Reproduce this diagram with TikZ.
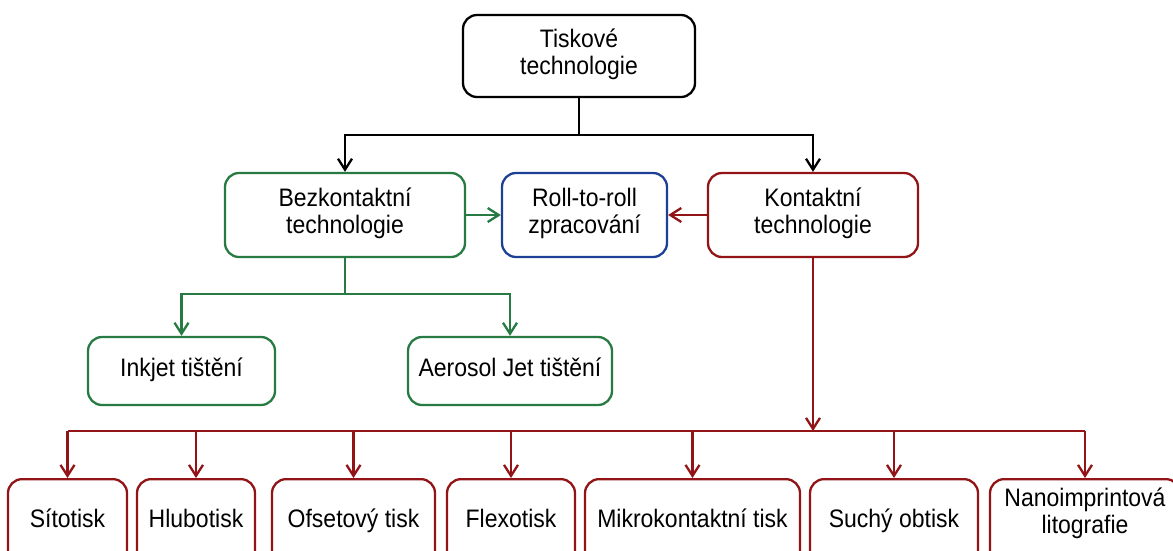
\documentclass[tikz,border=0pt]{standalone}
\usepackage{fontspec}
\setmainfont{Liberation Sans}
\usetikzlibrary{arrows.meta}

\definecolor{kgreen}{RGB}{38,122,66}
\definecolor{kblue}{RGB}{28,64,150}
\definecolor{kred}{RGB}{146,20,22}

% slightly tall lettering, one or more centred lines
\newcommand\tx[1]{\scalebox{1}[1.1]{\begin{tabular}[t]{@{}c@{}}#1\end{tabular}}}

\tikzset{
  box/.style={draw, line width=2.3pt, rounded corners=14pt, align=center,
    inner sep=0pt, font=\fontsize{23}{24.5}\selectfont},
  arr/.style={line width=2.3pt, -{Straight Barb[length=11pt,width=14pt]}},
  ln/.style={line width=2.3pt},
  low/.style={box, draw=kred, anchor=north, text height=48pt, text depth=80pt},
}

\begin{document}
\begin{tikzpicture}[x=1pt,y=-1pt]
\useasboundingbox (0,0) rectangle (1173,550);
\fill[white] (0,0) rectangle (1173,550);
\clip (0,0) rectangle (1173,550);

% root
\node[box, minimum width=232pt, minimum height=82pt] (top) at (579,56) {\tx{Tiskové\\technologie}};

% second level
\node[box, draw=kgreen, minimum width=240pt, minimum height=84pt] (bez) at (345,215) {\tx{Bezkontaktní\\technologie}};
\node[box, draw=kblue, minimum width=165pt, minimum height=84pt] (roll) at (584.5,215) {\tx{Roll-to-roll\\zpracování}};
\node[box, draw=kred, minimum width=210pt, minimum height=84pt] (kon) at (813,215) {\tx{Kontaktní\\technologie}};

% non-contact methods
\node[box, draw=kgreen, minimum width=187pt, minimum height=68pt] (ink) at (181.5,371) {\tx{Inkjet tištění}};
\node[box, draw=kgreen, minimum width=204pt, minimum height=68pt] (aer) at (510,371) {\tx{Aerosol Jet tištění}};

% contact methods (boxes run on below the lower edge)
\node[low, minimum width=119pt] (sit) at (67.5,478) {\tx{Sítotisk}};
\node[low, minimum width=118pt] (hlu) at (196,478) {\tx{Hlubotisk}};
\node[low, minimum width=163pt] (ofs) at (353.5,478) {\tx{Ofsetový tisk}};
\node[low, minimum width=128pt] (fle) at (511,478) {\tx{Flexotisk}};
\node[low, minimum width=215pt] (mik) at (692.5,478) {\tx{Mikrokontaktní tisk}};
\node[low, minimum width=168pt] (suc) at (894,478) {\tx{Suchý obtisk}};
\node[low, minimum width=190pt, text height=27pt] (nan) at (1085,478) {\tx{Nanoimprintová\\litografie}};

% root branches
\coordinate (j1) at (579,135);
\draw[ln] (top) -- (j1);
\draw[arr] (j1) -| (bez);
\draw[arr] (j1) -| (kon);

% into roll-to-roll
\draw[arr, kgreen] (bez) -- (roll);
\draw[arr, kred] (kon) -- (roll);

% non-contact branches
\coordinate (j2) at (345,294);
\draw[ln, kgreen] (bez) -- (j2);
\draw[arr, kgreen] (j2) -| (ink);
\draw[arr, kgreen] (j2) -| (aer);

% contact branches
\coordinate (j3) at (813,431);
\draw[arr, kred] (kon) -- (j3);
\draw[ln, kred] (j3 -| sit) -- (j3 -| nan);
\foreach \n in {sit,hlu,ofs,fle,mik,suc,nan}
  \draw[arr, kred] (j3 -| \n) -- (\n);
\end{tikzpicture}
\end{document}
